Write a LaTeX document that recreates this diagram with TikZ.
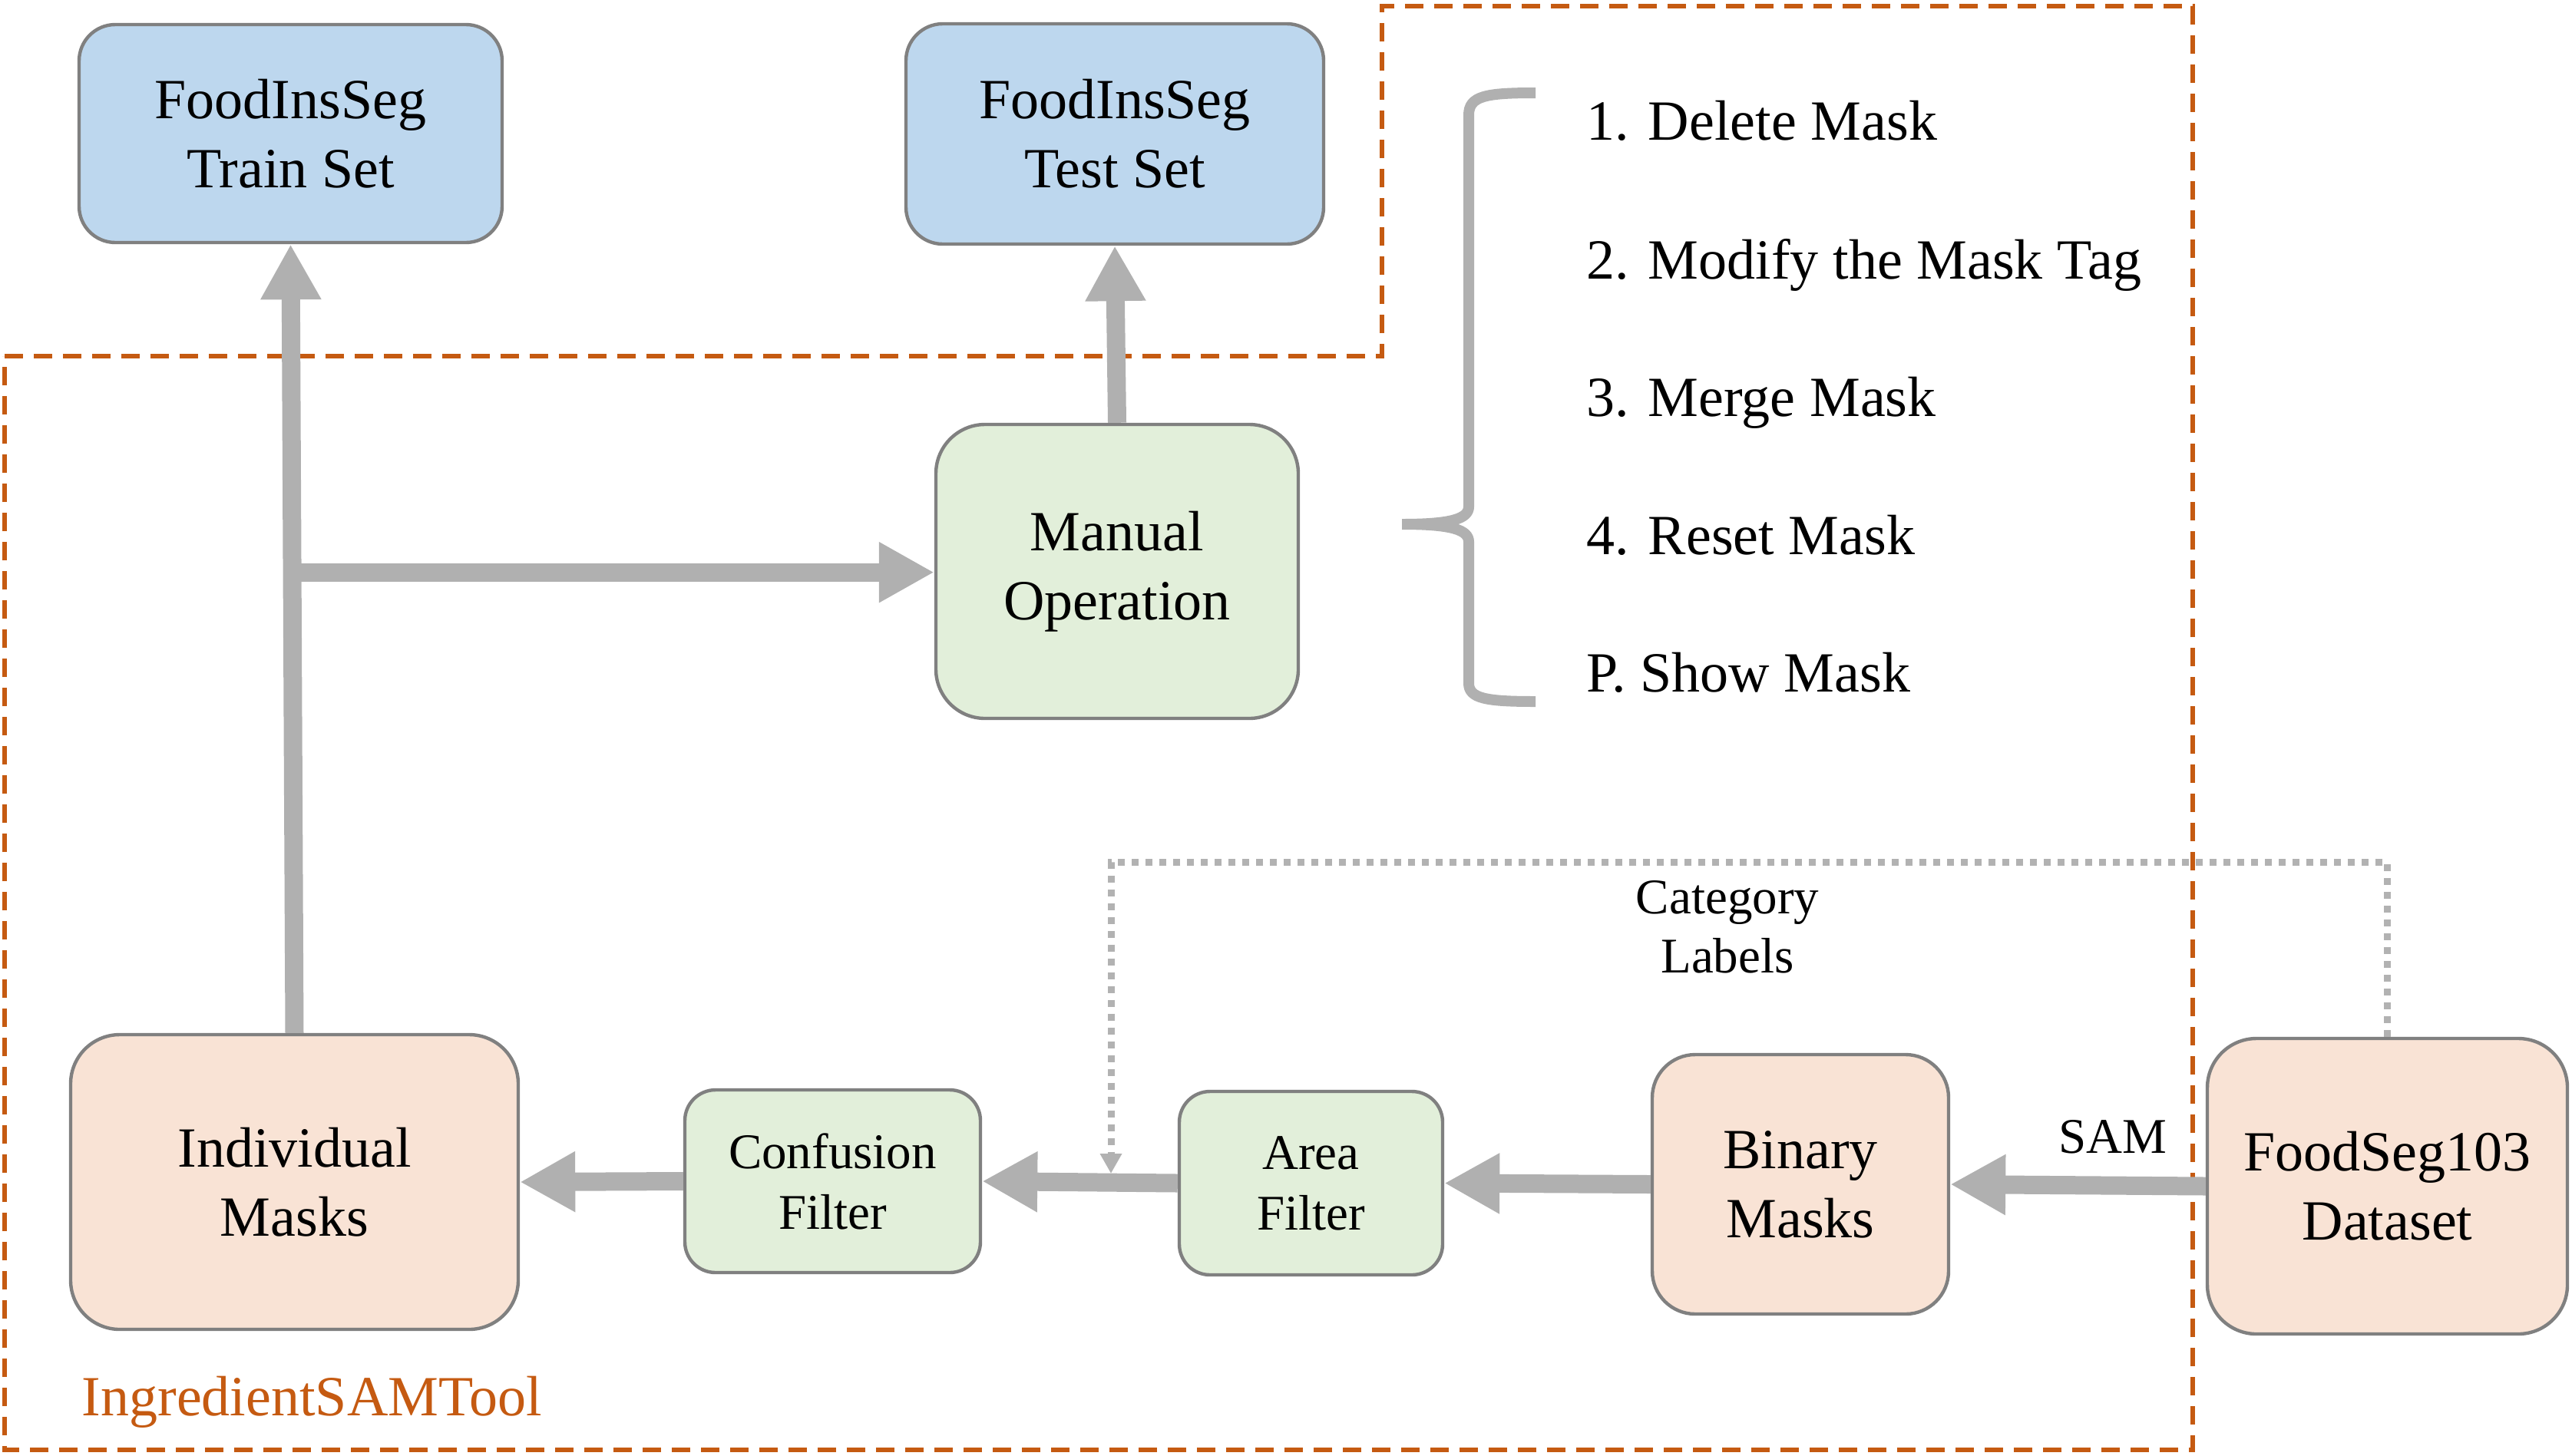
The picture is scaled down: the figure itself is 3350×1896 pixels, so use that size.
\documentclass[tikz,border=0pt]{standalone}
\usepackage{fontspec}
\setmainfont{Liberation Serif}
\usetikzlibrary{arrows.meta,calc}
\definecolor{boxblue}{RGB}{189,215,238}
\definecolor{boxgreen}{RGB}{226,239,218}
\definecolor{boxpeach}{RGB}{249,227,213}
\definecolor{boxline}{RGB}{128,128,128}
\definecolor{arrgray}{RGB}{176,176,176}
\definecolor{dotgray}{RGB}{178,178,178}
\definecolor{orng}{RGB}{197,90,17}
\tikzset{
  box/.style={draw=boxline, line width=1.1pt, align=center, inner sep=0pt,
    font=\fontsize{18.5}{22.5}\selectfont},
  smallbox/.style={box, font=\fontsize{16.25}{19.75}\selectfont},
  bigarrow/.style={draw=arrgray, line width=6pt, -{Triangle[width=18.5pt,length=18pt]}},
  dotarrow/.style={draw=dotgray, line width=2.25pt, dash pattern=on 2.25pt off 2.25pt,
    -{Triangle[width=6.75pt,length=6.5pt]}},
  itemtext/.style={anchor=base west, inner sep=0pt, font=\fontsize{18.5}{22.5}\selectfont},
}
\begin{document}
\begin{tikzpicture}[x=0.25pt,y=-0.25pt]
\useasboundingbox (0,0) rectangle (3350,1896);

% dashed orange region
\draw[orng, line width=1.4pt, dash pattern=on 6pt off 3.5pt]
  (6,464) -- (1800,464) -- (1800,8) -- (2856,8) -- (2856,1889) -- (6,1889) -- cycle;
\node[itemtext, text=orng] (tool) at (106,1844) {IngredientSAMTool};

% nodes
\node[box, fill=boxblue, minimum width=137.75pt, minimum height=71pt, rounded corners=11.8pt] (train) at (378.5,174) {FoodInsSeg\\Train Set};
\node[box, fill=boxblue, minimum width=136pt, minimum height=71.75pt, rounded corners=12pt] (test) at (1452,174.5) {FoodInsSeg\\Test Set};
\node[box, fill=boxgreen, minimum width=118pt, minimum height=95.75pt, rounded corners=16pt] (manual) at (1455,744.5) {Manual\\Operation};
\node[box, fill=boxpeach, minimum width=145.75pt, minimum height=96pt, rounded corners=16pt] (indiv) at (383.5,1540) {Individual\\Masks};
\node[smallbox, fill=boxgreen, minimum width=96.25pt, minimum height=59.5pt, rounded corners=10pt] (conf) at (1084.5,1539) {Confusion\\Filter};
\node[smallbox, fill=boxgreen, minimum width=85.75pt, minimum height=59.75pt, rounded corners=10pt] (area) at (1707.5,1541.5) {Area\\Filter};
\node[box, fill=boxpeach, minimum width=96.5pt, minimum height=84.5pt, rounded corners=14pt] (binary) at (2345,1543) {Binary\\Masks};
\node[box, fill=boxpeach, minimum width=117.25pt, minimum height=96.25pt, rounded corners=16pt] (foodseg) at (3109.5,1545.5) {FoodSeg103\\Dataset};

% labels
\node[align=center, inner sep=0pt, font=\fontsize{16.25}{19.25}\selectfont] (cat) at (2250,1208) {Category\\Labels};
\node[inner sep=0pt, font=\fontsize{16.25}{19.75}\selectfont] (sam) at (2752,1481) {SAM};

% arrows
\draw[bigarrow] (indiv.north) -- (train.south);
\coordinate (j) at ($(indiv.north)!0.584!(train.south)$);
\draw[bigarrow] (j) -- (j -| manual.west);
\draw[bigarrow] (manual.north) -- (test.south);
\draw[bigarrow] (foodseg.west) -- (binary.east);
\draw[bigarrow] (binary.west) -- (area.east);
\draw[bigarrow] (area.west) -- (conf.east);
\draw[bigarrow] (conf.west) -- (indiv.east);

% dotted category label connector
\coordinate (dc) at (1447,1123);
\coordinate (dt) at (1447,1529);
\draw[dotarrow] (foodseg.north) |- (dc) -- (dt);

% brace
\draw[arrgray, line width=3.5pt]
  (2000,121) .. controls (1935,121) and (1913,125) .. (1913,150) -- (1913,660)
  .. controls (1913,676) and (1890,683) .. (1826,683)
  .. controls (1890,683) and (1913,690) .. (1913,706) -- (1913,890)
  .. controls (1913,910) and (1935,914) .. (2000,914);

% items
\node[itemtext] (i1) at (2066,182) {1. Delete Mask};
\node[itemtext] (i2) at (2066,363) {2. Modify the Mask Tag};
\node[itemtext] (i3) at (2066,542) {3. Merge Mask};
\node[itemtext] (i4) at (2066,722) {4. Reset Mask};
\node[itemtext] (i5) at (2066,901) {P. Show Mask};
\end{tikzpicture}
\end{document}
